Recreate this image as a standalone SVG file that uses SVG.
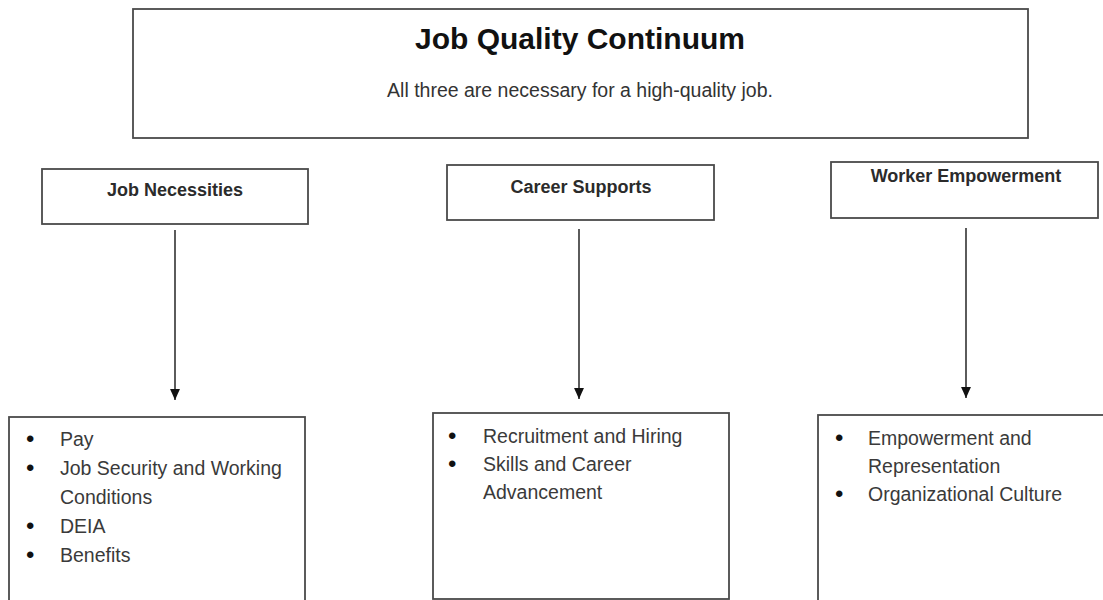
<svg xmlns="http://www.w3.org/2000/svg" width="1103" height="600" viewBox="0 0 1103 600">
<defs>
<style>
.box{fill:#fff;stroke:#4a4a4a;stroke-width:1.8}
.title{font-family:"Liberation Sans",Arial,sans-serif;font-weight:bold;font-size:30px;fill:#111}
.sub{font-family:"Liberation Sans",Arial,sans-serif;font-size:19.5px;fill:#333}
.lbl{font-family:"Liberation Sans",Arial,sans-serif;font-weight:bold;font-size:18px;fill:#2b2b2b}
.item{font-family:"Liberation Sans",Arial,sans-serif;font-size:19.5px;fill:#3a3a3a}
.bul{font-family:"Liberation Sans",Arial,sans-serif;font-size:24px;fill:#111}
.conn{stroke:#333;stroke-width:1.6;fill:none}
</style>
<marker id="arr" viewBox="0 0 10 10" refX="10" refY="5" markerUnits="userSpaceOnUse" markerWidth="11" markerHeight="11" orient="auto">
<path d="M0,0.5 L10,5 L0,9.5 Z" fill="#111"/>
</marker>
</defs>
<rect width="1103" height="600" fill="#fff"/>
<g id="title-node">
<rect class="box" x="133" y="9" width="895" height="129"/>
<text class="title" x="580" y="49" text-anchor="middle">Job Quality Continuum</text>
<text class="sub" x="580" y="97" text-anchor="middle">All three are necessary for a high-quality job.</text>
</g>
<g id="job-necessities">
<rect class="box" x="42" y="169" width="266" height="55"/>
<text class="lbl" x="175" y="196" text-anchor="middle">Job Necessities</text>
</g>
<g id="career-supports">
<rect class="box" x="447" y="165" width="267" height="55"/>
<text class="lbl" x="581" y="193" text-anchor="middle">Career Supports</text>
</g>
<g id="worker-empowerment">
<rect class="box" x="831" y="162" width="267" height="56"/>
<text class="lbl" x="966" y="182" text-anchor="middle" font-size="19">Worker Empowerment</text>
</g>
<g id="job-necessities-list">
<rect class="box" x="9" y="417" width="296" height="190"/>
<text class="bul" x="26" y="447">•</text><text class="item" x="60" y="446">Pay</text>
<text class="bul" x="26" y="476">•</text><text class="item" x="60" y="475">Job Security and Working</text>
<text class="item" x="60" y="504">Conditions</text>
<text class="bul" x="26" y="534">•</text><text class="item" x="60" y="533">DEIA</text>
<text class="bul" x="26" y="563">•</text><text class="item" x="60" y="562">Benefits</text>
</g>
<g id="career-supports-list">
<rect class="box" x="433" y="413" width="296" height="186"/>
<text class="bul" x="448" y="444">•</text><text class="item" x="483" y="443">Recruitment and Hiring</text>
<text class="bul" x="448" y="472">•</text><text class="item" x="483" y="471">Skills and Career</text>
<text class="item" x="483" y="499">Advancement</text>
</g>
<g id="worker-empowerment-list">
<rect class="box" x="818" y="415" width="300" height="192"/>
<text class="bul" x="835" y="446">•</text><text class="item" x="868" y="445">Empowerment and</text>
<text class="item" x="868" y="473">Representation</text>
<text class="bul" x="835" y="502">•</text><text class="item" x="868" y="501">Organizational Culture</text>
</g>
<g id="connectors">
<line class="conn" x1="175" y1="230" x2="175" y2="400" marker-end="url(#arr)"/>
<line class="conn" x1="579" y1="229" x2="579" y2="399" marker-end="url(#arr)"/>
<line class="conn" x1="966" y1="228" x2="966" y2="398" marker-end="url(#arr)"/>
</g>
</svg>
